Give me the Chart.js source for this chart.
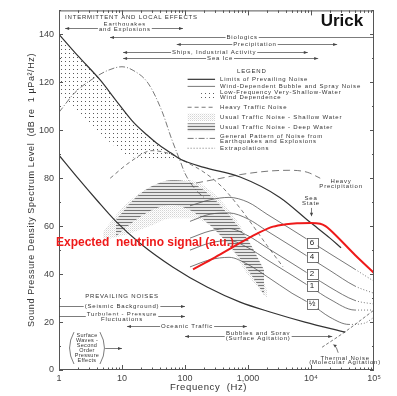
<!DOCTYPE html>
<html>
<head>
<meta charset="utf-8">
<script src="https://cdn.jsdelivr.net/npm/chart.js@4.4.1/dist/chart.umd.min.js"></script>
<style>
  html, body { margin: 0; padding: 0; background: #fff; }
  #wrap { width: 397px; height: 396px; }
</style>
</head>
<body>
<div id="wrap"><canvas id="noiseChart" width="397" height="396"></canvas></div>
<script>
'use strict';

// Axis ticks
const xTickValues = [1, 10, 100, 1000, 10000, 100000];
const xTickLabels = ['1', '10', '100', '1,000', '10⁴', '10⁵'];
const yTickValues = [0, 20, 40, 60, 80, 100, 120, 140];

// Curves: [frequency (Hz), level (dB)]
const upperLimit = [[1, 140], [2, 131], [4.5, 121], [8, 112.5], [15, 103.5], [25, 98], [36, 94.5], [60, 90.5], [83, 88], [200, 84.5], [750, 80.5], [3200, 72], [9600, 61.7], [20000, 55], [30000, 51]];
const lowerLimit = [[1, 89.6], [2, 80], [4, 70.8], [8, 62], [19.3, 52.9], [64.6, 42.9], [224, 34.6], [750, 28.3], [2240, 24.2], [8000, 20], [35000, 15.8]];
const seaState6 = [[120, 68.5], [250, 71], [500, 72], [1000, 70], [2000, 65], [5000, 58.5], [10000, 53.5], [20000, 48.5], [50000, 42], [100000, 37]];
const seaState4 = [[120, 62], [250, 65], [500, 65.5], [1000, 63], [2000, 58], [5000, 51.5], [10000, 46.5], [20000, 41.5], [50000, 35], [100000, 32]];
const seaState2 = [[120, 55], [250, 58], [500, 59], [1000, 56], [2000, 51], [5000, 44.5], [10000, 39.5], [20000, 34.5], [50000, 29], [100000, 27.5]];
const seaState1 = [[120, 50], [250, 53], [500, 54], [1000, 51], [2000, 46], [5000, 39.5], [10000, 34.5], [20000, 29.5], [50000, 25], [100000, 25]];
const seaStateHalf = [[120, 43], [250, 46], [500, 47], [1000, 44], [2000, 39], [5000, 32], [10000, 27.5], [20000, 22], [40000, 19], [70000, 19.5], [100000, 22]];
const heavyTraffic = [[6.5, 80], [13, 86.5], [30, 91.5], [60, 90], [100, 87], [200, 82.5], [400, 76], [800, 66.5], [2000, 52], [3600, 43]];
const heavyPrecip = [[150, 78], [300, 79.5], [750, 81.5], [2200, 83], [4600, 83.3], [8700, 82.5], [14000, 80]];
const earthquakes = [[1, 107.5], [1.8, 115.8], [3.7, 122], [6, 125], [10, 126.5], [15, 125], [26, 119.6], [43, 108], [62, 96], [83, 87.5], [100, 82], [150, 75], [200, 72]];
const thermal = [[15000, 9.5], [35000, 16], [100000, 25]];
const neutrino = [[134, 42], [300, 47], [750, 53], [1550, 57.5], [2500, 59.8], [4000, 60.8], [6000, 61.2], [10000, 61.3], [14000, 61], [17000, 60], [20000, 58.5], [50000, 48], [100000, 40.5]];

// Shaded regions: shared frequencies, top and bottom levels
const dotFreq = [1, 2, 4, 8, 14, 30, 83];
const dotTop = [140, 131, 122.5, 112.5, 104.5, 96.3, 88];
const dotBottom = [115.4, 108, 100, 93, 88.7, 88.3, 88];
const shallowFreq = [5, 8, 15, 30, 60, 120, 250, 500, 1000, 2000];
const shallowTop = [57.5, 64.6, 71.7, 76.7, 79.2, 79.2, 75, 66.7, 54.2, 33.3];
const shallowBottom = [54.2, 55.4, 57.5, 60.4, 63.3, 63.3, 60.4, 52, 39.6, 30];
const deepFreq = [8, 15, 30, 60, 120, 250, 500, 1000, 1800];
const deepTop = [62.5, 70.8, 76.7, 79.2, 78.3, 72.9, 64.6, 54.2, 41.7];
const deepBottom = [55.8, 61.7, 66.7, 68.8, 66.7, 60.4, 52.1, 41.7, 31.3];

const FONT = '"Liberation Sans", Arial, sans-serif';
let canvas = document.getElementById('noiseChart');
let chartCtx = canvas.getContext('2d');

function makePattern(w, h, draw){
  let c = document.createElement('canvas');
  c.width = w;
  c.height = h;
  draw(c.getContext('2d'));
  return chartCtx.createPattern(c, 'repeat');
}

let dotPattern = makePattern(4, 4, g => { g.fillStyle = '#5a5a5a'; g.fillRect(1, 1, 1, 1); });
let stipplePattern = makePattern(2, 2, g => { g.fillStyle = '#d4d4d4'; g.fillRect(0, 0, 1, 1); g.fillStyle = '#ececec'; g.fillRect(1, 1, 1, 1); });
let hatchPattern = makePattern(4, 3, g => { g.fillStyle = '#777'; g.fillRect(0, 0, 4, 1); g.fillStyle = '#e6e6e6'; g.fillRect(0, 1, 4, 2); });

function pts(pairs){
  return pairs.map(p => ({x: p[0], y: p[1]}));
}
function zipPts(freq, levels){
  return freq.map((f, i) => ({x: f, y: levels[i]}));
}

function curve(pairs, color, width, dash, order, extra = {}){
  return Object.assign({
    data: pts(pairs),
    borderColor: color,
    borderWidth: width,
    borderDash: dash,
    pointRadius: 0,
    fill: false,
    cubicInterpolationMode: 'monotone',
    order: order
  }, extra);
}
function region(freq, levels, fill, order){
  return {
    data: zipPts(freq, levels),
    borderWidth: 0,
    borderColor: 'rgba(0,0,0,0)',
    pointRadius: 0,
    fill: fill ? '-1' : false,
    backgroundColor: fill,
    cubicInterpolationMode: 'monotone',
    order: order
  };
}

// dotted tail for the extrapolated sea-state ends
const extrapolated = {borderDash: ctx => ctx.p0.parsed.x >= 40000 ? [1, 2] : undefined};

let datasets = [
  region(shallowFreq, shallowBottom, null, 30),
  region(shallowFreq, shallowTop, stipplePattern, 30),
  region(deepFreq, deepBottom, null, 29),
  region(deepFreq, deepTop, hatchPattern, 29),
  region(dotFreq, dotBottom, null, 28),
  region(dotFreq, dotTop, dotPattern, 28),
  curve(earthquakes, '#555', 0.8, [6, 2, 1, 2], 10),
  curve(heavyTraffic, '#555', 0.8, [4, 3], 10),
  curve(heavyPrecip, '#555', 0.8, [7, 4], 10),
  curve(thermal, '#555', 0.8, [3, 2], 10),
  curve(seaState6, '#555', 0.8, [], 9, {segment: extrapolated}),
  curve(seaState4, '#555', 0.8, [], 9, {segment: extrapolated}),
  curve(seaState2, '#555', 0.8, [], 9, {segment: extrapolated}),
  curve(seaState1, '#555', 0.8, [], 9, {segment: extrapolated}),
  curve(seaStateHalf, '#555', 0.8, [], 9, {segment: extrapolated}),
  curve(upperLimit, '#333', 1.2, [], 8),
  curve(lowerLimit, '#333', 1.2, [], 8),
  curve(neutrino, '#ee1a1a', 2, [], 1)
];

// Frame, ticks and all the printed notes
const decorPlugin = {
  id: 'decor',
  afterDraw(chart){
    const ctx = chart.ctx;
    const a = chart.chartArea;
    const xs = chart.scales.x;
    const ys = chart.scales.y;
    const X = f => xs.getPixelForValue(f);
    const Y = v => ys.getPixelForValue(v);

    ctx.save();
    // frame
    ctx.strokeStyle = '#555';
    ctx.lineWidth = 1;
    ctx.strokeRect(a.left + 0.5, a.top + 0.5, a.right - a.left - 1, a.bottom - a.top - 1);
    // y ticks
    ctx.beginPath();
    for (let v = 0; v <= 150; v += 10){
      let len = v % 20 === 0 ? 4 : 2;
      let py = Math.round(Y(v)) + 0.5;
      ctx.moveTo(a.left, py); ctx.lineTo(a.left + len, py);
      ctx.moveTo(a.right, py); ctx.lineTo(a.right - len, py);
    }
    // x ticks
    for (let d = 1; d < 100000; d *= 10){
      for (let k = 1; k < 10; k++){
        let len = k === 1 ? 5 : 2.5;
        let px = Math.round(X(d * k)) + 0.5;
        ctx.moveTo(px, a.bottom); ctx.lineTo(px, a.bottom - len);
        ctx.moveTo(px, a.top); ctx.lineTo(px, a.top + len);
      }
    }
    ctx.stroke();

    function text(str, f, db, opt = {}){
      ctx.save();
      ctx.font = (opt.bold ? 'bold ' : '') + (opt.size || 6) + 'px ' + FONT;
      ctx.letterSpacing = (opt.spacing === undefined ? 0.8 : opt.spacing) + 'px';
      ctx.textAlign = opt.align || 'center';
      ctx.textBaseline = 'middle';
      let px = X(f);
      let py = Y(db);
      if (opt.bg){
        let w = ctx.measureText(str).width + 2;
        let left = opt.align === 'left' ? px - 1 : px - w / 2;
        ctx.fillStyle = '#fff';
        ctx.fillRect(left, py - 3.5, w, 7);
      }
      ctx.fillStyle = opt.color || '#333';
      ctx.fillText(str, px, py);
      ctx.restore();
    }
    function head(px, py, dir){
      ctx.beginPath();
      ctx.moveTo(px, py);
      ctx.lineTo(px - dir * 4, py - 1.6);
      ctx.lineTo(px - dir * 4, py + 1.6);
      ctx.closePath();
      ctx.fill();
    }
    function arrow(f1, f2, db, heads){
      let py = Math.round(Y(db)) + 0.5;
      ctx.strokeStyle = '#444';
      ctx.fillStyle = '#444';
      ctx.lineWidth = 0.7;
      ctx.beginPath();
      ctx.moveTo(X(f1), py);
      ctx.lineTo(X(f2), py);
      ctx.stroke();
      if (heads.includes('l')) head(X(f1), py, -1);
      if (heads.includes('r')) head(X(f2), py, 1);
    }

    // top: intermittent and local effects
    text('INTERMITTENT AND LOCAL EFFECTS', 1.25, 147, {align: 'left'});
    arrow(1.25, 93, 142.5, 'lr');
    text('Earthquakes', 11.1, 144.3);
    text('and Explosions', 11.1, 142.2, {bg: true});
    arrow(6.45, 100000, 138.8, 'l');
    text('Biologics', 808, 138.8, {bg: true});
    arrow(74, 26000, 136, 'lr');
    text('Precipitation', 1290, 136, {bg: true});
    arrow(10.4, 8900, 132.6, 'lr');
    text('Ships, Industrial Activity', 290, 132.6, {bg: true});
    arrow(10.4, 13000, 130, 'lr');
    text('Sea Ice', 360, 130, {bg: true});

    text('Urick', 31000, 145.4, {bold: true, size: 17, spacing: 0, color: '#111'});

    // legend
    text('LEGEND', 1150, 124.6);
    const legendItems = [
      ['Limits of Prevailing Noise', 121.25],
      ['Wind-Dependent Bubble and Spray Noise', 118.3],
      ['Low-Frequency Very-Shallow-Water', 115.7],
      ['Wind Dependence', 113.6],
      ['Heavy Traffic Noise', 109.6],
      ['Usual Traffic Noise - Shallow Water', 105.4],
      ['Usual Traffic Noise - Deep Water', 101.25],
      ['General Pattern of Noise from', 97.6],
      ['Earthquakes and Explosions', 95.5],
      ['Extrapolations', 92.5]
    ];
    legendItems.forEach(item => text(item[0], 360, item[1], {align: 'left'}));
    let lx1 = X(110);
    let lx2 = X(300);
    function sample(db, color, width, dash){
      ctx.save();
      ctx.strokeStyle = color;
      ctx.lineWidth = width;
      ctx.setLineDash(dash);
      ctx.beginPath();
      ctx.moveTo(lx1, Y(db));
      ctx.lineTo(lx2, Y(db));
      ctx.stroke();
      ctx.restore();
    }
    sample(121.25, '#333', 1.2, []);
    sample(118.3, '#555', 0.8, []);
    ctx.fillStyle = dotPattern;
    ctx.fillRect(X(180), Y(116.5), X(300) - X(180), Y(112.8) - Y(116.5));
    sample(109.6, '#555', 0.8, [4, 3]);
    ctx.fillStyle = stipplePattern;
    ctx.fillRect(lx1, Y(107), lx2 - lx1, Y(103.8) - Y(107));
    ctx.fillStyle = hatchPattern;
    ctx.fillRect(lx1, Y(102.9), lx2 - lx1, Y(99.6) - Y(102.9));
    sample(96.6, '#555', 0.8, [6, 2, 1, 2]);
    sample(92.5, '#555', 0.8, [1, 2]);

    // sea state notes
    text('Heavy', 30000, 78.8);
    text('Precipitation', 30000, 76.5);
    text('Sea', 10000, 71.7);
    text('State', 10000, 69.4);
    ctx.strokeStyle = '#444';
    ctx.fillStyle = '#444';
    ctx.lineWidth = 0.7;
    let ax = Math.round(X(10000)) + 0.5;
    ctx.beginPath();
    ctx.moveTo(ax, Y(67.6));
    ctx.lineTo(ax, Y(64.5));
    ctx.stroke();
    ctx.beginPath();
    ctx.moveTo(ax, Y(64));
    ctx.lineTo(ax - 1.6, Y(65.6));
    ctx.lineTo(ax + 1.6, Y(65.6));
    ctx.closePath();
    ctx.fill();

    const seaBoxes = [['6', 52.9], ['4', 47.1], ['2', 40], ['1', 35], ['½', 27.5]];
    seaBoxes.forEach(b => {
      let bx = X(10400);
      let by = Y(b[1]);
      ctx.fillStyle = '#fff';
      ctx.fillRect(bx - 5.5, by - 5, 11, 10);
      ctx.strokeStyle = '#555';
      ctx.lineWidth = 0.8;
      ctx.strokeRect(Math.round(bx - 5.5) + 0.5, Math.round(by - 5) + 0.5, 11, 10);
      text(b[0], 10400, b[1], {size: 8, spacing: 0, color: '#222'});
    });

    // bottom: prevailing noises
    text('PREVAILING NOISES', 10, 30.8);
    arrow(1, 100, 26.7, 'r');
    text('(Seismic Background)', 10, 26.7, {bg: true});
    arrow(1, 100, 22.4, 'r');
    text('Turbulent - Pressure', 10, 23.4, {bg: true});
    text('Fluctuations', 10, 21.3, {bg: true});
    arrow(12, 960, 18.4, 'lr');
    text('Oceanic Traffic', 108, 18.4, {bg: true});
    arrow(100, 21700, 14.2, 'lr');
    text('Bubbles and Spray', 1450, 15.4, {bg: true});
    text('(Surface Agitation)', 1450, 13.1, {bg: true});

    ['Surface', 'Waves -', 'Second', 'Order', 'Pressure', 'Effects'].forEach((s, i) => {
      text(s, 2.78, 14.6 - i * 2.15, {size: 5.5, spacing: 0.3});
    });
    ctx.strokeStyle = '#444';
    ctx.lineWidth = 0.7;
    ctx.beginPath();
    ctx.moveTo(X(1.73), Y(15.8));
    ctx.quadraticCurveTo(X(1.25), Y(9.2), X(1.73), Y(2.5));
    ctx.moveTo(X(4.47), Y(15.8));
    ctx.quadraticCurveTo(X(6.2), Y(9.2), X(4.47), Y(2.5));
    ctx.stroke();
    arrow(5.4, 10, 9.2, 'r');

    text('Thermal Noise', 34800, 5);
    text('(Molecular Agitation)', 34800, 3);
    ctx.strokeStyle = '#444';
    ctx.fillStyle = '#444';
    ctx.beginPath();
    ctx.moveTo(X(27000), Y(7.2));
    ctx.quadraticCurveTo(X(26000), Y(9.5), X(22700), Y(10.6));
    ctx.stroke();
    ctx.beginPath();
    ctx.moveTo(X(22700), Y(10.6));
    ctx.lineTo(X(22700) + 3.5, Y(10.6) + 0.5);
    ctx.lineTo(X(22700) + 1.5, Y(10.6) + 3);
    ctx.closePath();
    ctx.fill();

    // red note
    text('Expected  neutrino signal (a.u.)', 0.896, 53.3, {align: 'left', bold: true, size: 12, spacing: 0, color: '#ee1a1a'});

    // axis titles
    ctx.fillStyle = '#333';
    ctx.textAlign = 'center';
    ctx.textBaseline = 'middle';
    ctx.font = '9.5px ' + FONT;
    ctx.letterSpacing = '0.6px';
    ctx.fillText('Frequency  (Hz)', (a.left + a.right) / 2 - 8, 387);
    ctx.font = '9px ' + FONT;
    ctx.letterSpacing = '0.6px';
    ctx.save();
    ctx.translate(32, 190);
    ctx.rotate(-Math.PI / 2);
    ctx.fillText('Sound Pressure Density Spectrum Level  (dB re  1 µPa²/Hz)', 0, 0);
    ctx.restore();
    ctx.restore();
  }
};

new Chart(canvas, { // eslint-disable-line
  type: 'line',
  data: {datasets: datasets},
  options: {
    responsive: false,
    animation: false,
    layout: {padding: {top: 9, right: 23, left: 0, bottom: 0}},
    plugins: {legend: {display: false}, tooltip: {enabled: false}},
    scales: {
      x: {
        type: 'logarithmic',
        min: 1,
        max: 100000,
        afterBuildTicks: s => { s.ticks = xTickValues.map(v => ({value: v})); },
        afterFit: s => { s.height = 26; },
        grid: {display: false, drawTicks: false},
        border: {display: false},
        ticks: {
          autoSkip: false,
          maxRotation: 0,
          padding: 3,
          color: '#444',
          font: {family: FONT, size: 9},
          callback: v => { let i = xTickValues.indexOf(v); return i < 0 ? '' : xTickLabels[i]; }
        }
      },
      y: {
        type: 'linear',
        min: 0,
        max: 150,
        afterBuildTicks: s => { s.ticks = yTickValues.map(v => ({value: v})); },
        afterFit: s => { s.width = 59; },
        grid: {display: false, drawTicks: false},
        border: {display: false},
        ticks: {padding: 5, color: '#444', font: {family: FONT, size: 9}}
      }
    }
  },
  plugins: [decorPlugin]
});
</script>
</body>
</html>
